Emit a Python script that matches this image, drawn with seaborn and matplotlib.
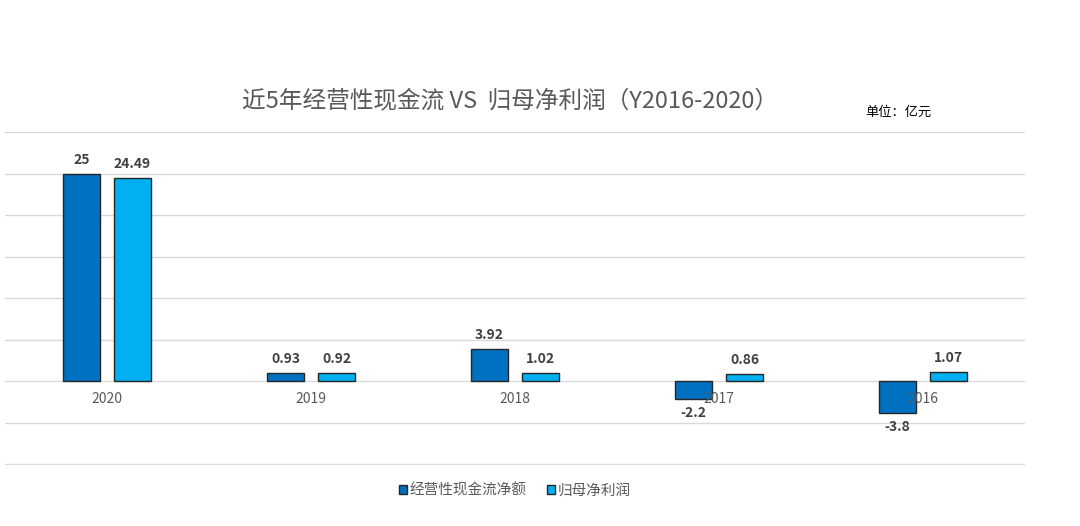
import pandas as pd
import matplotlib.pyplot as plt
import matplotlib.transforms as mtransforms
import seaborn as sns

years = ["2020", "2019", "2018", "2017", "2016"]
cash_flow = [25, 0.93, 3.92, -2.2, -3.8]
net_profit = [24.49, 0.92, 1.02, 0.86, 1.07]
cash_labels = ["25", "0.93", "3.92", "-2.2", "-3.8"]
profit_labels = ["24.49", "0.92", "1.02", "0.86", "1.07"]
series_names = ["经营性现金流净额", "归母净利润"]
colors = ["#0070C0", "#00B0F0"]

sns.set_style("white")
plt.rcParams["font.family"] = ["Noto Sans CJK SC", "DejaVu Sans"]

df = pd.DataFrame({
    "year": years * 2,
    "value": cash_flow + net_profit,
    "series": [series_names[0]] * len(years) + [series_names[1]] * len(years),
})

fig = plt.figure(figsize=(10.8, 5.26), dpi=100)
ax = fig.add_axes([5 / 1080, 1 - 464.5 / 526, 1020 / 1080, 332.5 / 526])

sns.barplot(data=df, x="year", y="value", hue="series", order=years,
            hue_order=series_names, palette=colors, width=0.5, gap=0.27,
            edgecolor="#262626", linewidth=1, saturation=1, ax=ax, zorder=3)

ax.set_ylim(-10.05, 30)
ax.set_xlim(-0.5, len(years) - 0.5)
ax.set_yticks(range(-10, 31, 5))
ax.set_yticklabels([])
ax.grid(axis="y", color="#D9D9D9", linewidth=1, zorder=0)
ax.set_axisbelow(True)
for s in ax.spines.values():
    s.set_visible(False)
ax.tick_params(left=False, bottom=False)
ax.set_xticks([])
ax.set_xlabel("")
ax.set_ylabel("")

# data labels
for cont, labs in zip(ax.containers, [cash_labels, profit_labels]):
    ax.bar_label(cont, labels=labs, padding=5, fontsize=10, fontweight="bold",
                 color="#404040")

# category labels sit on the zero line, drawn over the bars
trans = mtransforms.blended_transform_factory(ax.transData, ax.transData)
for i, y in enumerate(years):
    t = ax.text(i, 0, y, transform=trans, ha="center", va="top",
                fontsize=10, color="#595959", zorder=5)
    t.set_transform(trans + mtransforms.ScaledTranslation(0, -8 / 72, fig.dpi_scale_trans))

fig.text(510 / 1080, 1 - 101 / 526, "近5年经营性现金流 VS  归母净利润（Y2016-2020）",
         ha="center", va="center", fontsize=17, color="#595959")
fig.text(865 / 1080, 1 - 112 / 526, "单位：亿元", ha="left", va="center",
         fontsize=9.5, color="#000000")

sns.move_legend(ax, "center", bbox_to_anchor=(0.5, -0.078), ncol=2,
                frameon=False, title=None, fontsize=10.5, handlelength=0.55,
                handleheight=0.55, handletextpad=0.2, columnspacing=1.4,
                labelcolor="#595959")

fig.savefig("out.png", dpi=100)
